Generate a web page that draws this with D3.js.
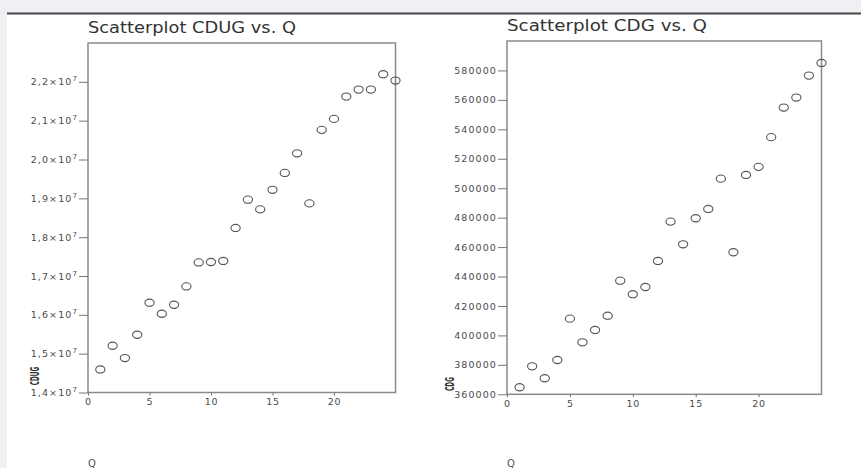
<!DOCTYPE html>
<html>
<head>
<meta charset="utf-8">
<script src="https://cdn.jsdelivr.net/npm/d3@7"></script>
<style>
  body { margin: 0; background: #eef0f3; }
  svg { display: block; }
</style>
</head>
<body>
<div id="viz"></div>
<script>
const q = [1, 2, 3, 4, 5, 6, 7, 8, 9, 10, 11, 12, 13, 14, 15, 16, 17, 18, 19, 20, 21, 22, 23, 24, 25];
const cdug = [14593000, 15204000, 14887000, 15487000, 16312000, 16028000, 16260000, 16732000, 17350000, 17360000,
  17387000, 18237000, 18966000, 18716000, 19220000, 19655000, 20160000, 18870000, 20763000, 21046000,
  21620000, 21800000, 21800000, 22196000, 22033000];
const cdg = [364800, 379000, 370900, 383300, 411400, 395300, 403700, 413400, 437200, 428000,
  432900, 450600, 477300, 461900, 479600, 485900, 506500, 456500, 509000, 514500,
  534700, 554800, 561600, 576500, 585100];

const xTicks = [0, 5, 10, 15, 20];
const cdugTicks = [14000000, 15000000, 16000000, 17000000, 18000000, 19000000, 20000000, 21000000, 22000000];
const cdgTicks = [360000, 380000, 400000, 420000, 440000, 460000, 480000, 500000, 520000, 540000, 560000, 580000];

const width = 861, height = 468;

const svg = d3.select('#viz').append('svg')
  .attr('width', width)
  .attr('height', height);

// page chrome: white panel under a dark rule
svg.append('rect').attr('x', 7).attr('y', 14).attr('width', width - 7).attr('height', height - 14).attr('fill', '#fff');
svg.append('line').attr('x1', 7).attr('x2', width).attr('y1', 13.5).attr('y2', 13.5)
  .attr('stroke', '#444').attr('stroke-width', 2.2);

const panels = [
  {title: 'Scatterplot CDUG vs. Q', titleLen: 208, yName: 'CDUG', values: cdug, ticks: cdugTicks, domain: [14000000, 23000000],
   box: {left: 88, top: 43, right: 395.5, bottom: 392.5}, sci: true, yLabelX: 35, yLabelY: 376},
  {title: 'Scatterplot CDG vs. Q', titleLen: 200, yName: 'CDG', values: cdg, ticks: cdgTicks, domain: [360000, 600000],
   box: {left: 507, top: 41, right: 821.5, bottom: 394.3}, sci: false, yLabelX: 450, yLabelY: 384},
];

panels.forEach(p => {
  const b = p.box;
  const x = d3.scaleLinear().domain([0, 25]).range([b.left, b.right]);
  const y = d3.scaleLinear().domain(p.domain).range([b.bottom, b.top]);

  const g = svg.append('g');

  // title
  g.append('text')
    .attr('x', b.left)
    .attr('y', b.top - 10)
    .attr('font-family', 'DejaVu Sans, sans-serif')
    .attr('font-size', 15)
    .attr('textLength', p.titleLen)
    .attr('lengthAdjust', 'spacingAndGlyphs')
    .attr('fill', '#333')
    .text(p.title);

  // frame
  g.append('rect')
    .attr('x', b.left).attr('y', b.top)
    .attr('width', b.right - b.left).attr('height', b.bottom - b.top)
    .attr('fill', 'none').attr('stroke', '#8a8a8a').attr('stroke-width', 1.5);

  // y axis
  const yAxis = g.append('g')
    .attr('transform', `translate(${b.left},0)`)
    .call(d3.axisLeft(y).tickValues(p.ticks).tickSize(9).tickPadding(1)
      .tickFormat(d => p.sci ? (d / 1e7).toFixed(1).replace('.', ',') : d3.format('d')(d)));
  yAxis.select('.domain').remove();
  yAxis.selectAll('.tick line').attr('stroke', '#777');
  yAxis.selectAll('.tick text')
    .attr('font-family', 'DejaVu Sans, sans-serif')
    .attr('font-size', 9.5)
    .attr('letter-spacing', 1.1)
    .attr('fill', '#4a4a4a');
  if (p.sci) {
    yAxis.selectAll('.tick text').each(function() {
      const t = d3.select(this);
      t.append('tspan').text('×10');
      t.append('tspan').attr('dy', -4).attr('font-size', 7).text('7');
    });
  }

  // x axis
  const xAxis = g.append('g')
    .attr('transform', `translate(0,${b.bottom})`)
    .call(d3.axisBottom(x).tickValues(xTicks).tickSize(3).tickPadding(3));
  xAxis.select('.domain').remove();
  xAxis.selectAll('.tick line').attr('stroke', '#777');
  xAxis.selectAll('.tick text')
    .attr('font-family', 'DejaVu Sans, sans-serif')
    .attr('font-size', 9.5)
    .attr('letter-spacing', 0.8)
    .attr('fill', '#4a4a4a');

  // axis names
  g.append('text')
    .attr('transform', `translate(${p.yLabelX},${p.yLabelY}) rotate(-90)`)
    .attr('text-anchor', 'middle')
    .attr('dominant-baseline', 'middle')
    .attr('font-family', 'DejaVu Sans Condensed, sans-serif')
    .attr('font-size', 12)
    .attr('font-weight', 'bold')
    .attr('textLength', p.yName.length * 4.6)
    .attr('lengthAdjust', 'spacingAndGlyphs')
    .attr('fill', '#333')
    .text(p.yName);

  g.append('text')
    .attr('x', b.left + 4)
    .attr('y', 467)
    .attr('text-anchor', 'middle')
    .attr('font-family', 'DejaVu Sans, sans-serif')
    .attr('font-size', 10)
    .attr('fill', '#555')
    .text('Q');

  // points
  g.selectAll('ellipse')
    .data(q)
    .join('ellipse')
    .attr('cx', (d, i) => x(d))
    .attr('cy', (d, i) => y(p.values[i]))
    .attr('rx', 4.6)
    .attr('ry', 3.6)
    .attr('fill', 'none')
    .attr('stroke', '#555')
    .attr('stroke-width', 1.1);
});
</script>
</body>
</html>
